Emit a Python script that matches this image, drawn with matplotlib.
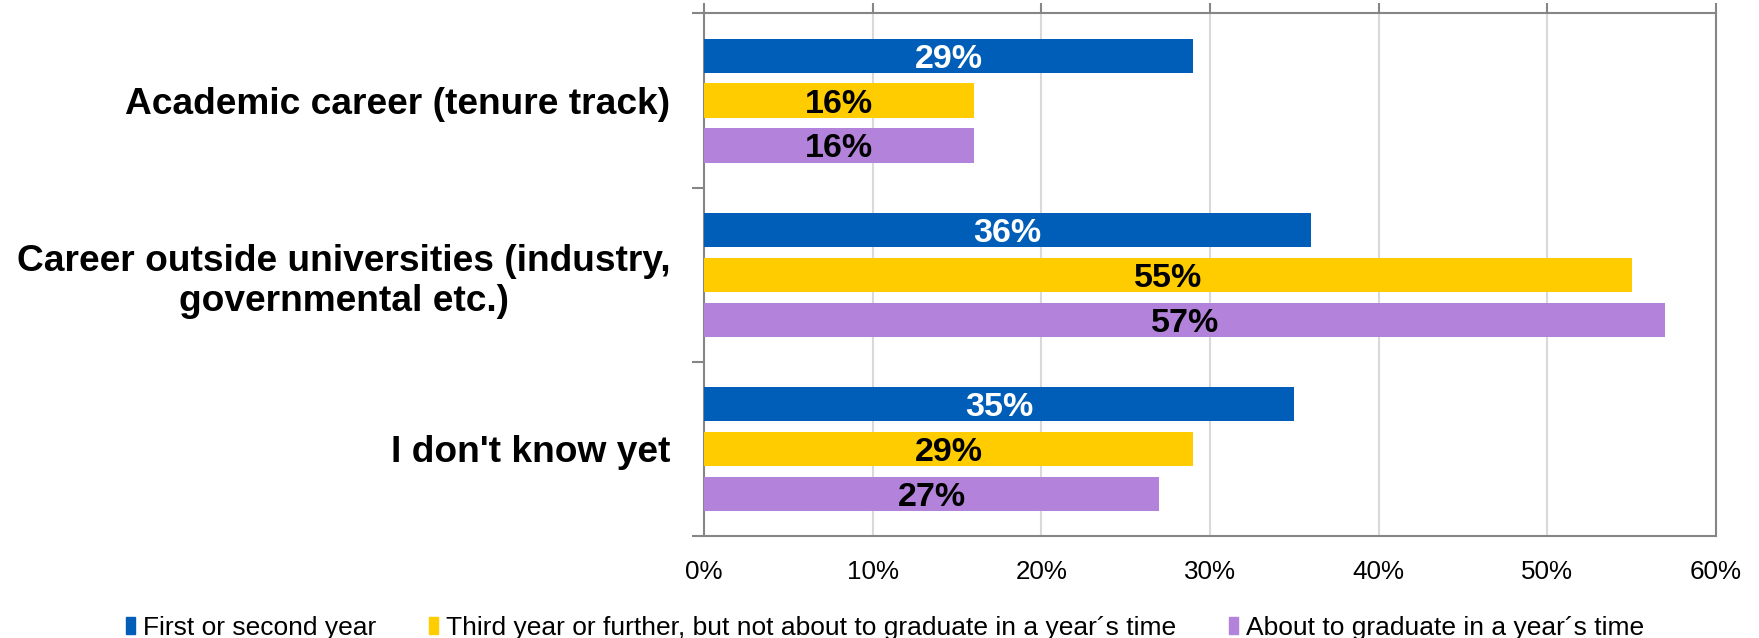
import matplotlib
matplotlib.use("Agg")
import matplotlib.pyplot as plt
from matplotlib.ticker import FixedLocator, PercentFormatter
from matplotlib.patches import Patch
import numpy as np

# chart data
categories = ["Academic career (tenure track)",
              "Career outside universities (industry,\ngovernmental etc.)",
              "I don't know yet"]
series_names = ["First or second year",
                "Third year or further, but not about to graduate in a year\u00b4s time",
                "About to graduate in a year\u00b4s time"]
first_year = [29, 36, 35]
third_year = [16, 55, 29]
graduating = [16, 57, 27]
x_ticks = [0, 10, 20, 30, 40, 50, 60]

colors = ["#005EB8", "#FFCC00", "#B383DB"]
label_colors = ["white", "black", "black"]

plt.rcParams['font.family'] = ['Liberation Sans', 'DejaVu Sans']

fig = plt.figure(figsize=(17.59, 6.38), dpi=100)
ax = fig.add_axes([0.4002, 0.1599, 0.5753, 0.8190])

ypos = np.arange(len(categories))
offsets = [-0.258, 0.0, 0.258]
bar_h = 0.196

for vals, off, col, lcol, name in zip([first_year, third_year, graduating],
                                      offsets, colors, label_colors, series_names):
    bars = ax.barh(ypos + off, vals, height=bar_h, color=col, label=name, zorder=3)
    for b, v in zip(bars, vals):
        ax.text(b.get_width() / 2, b.get_y() + b.get_height() / 2, f"{v}%",
                ha="center", va="center_baseline", color=lcol, fontsize=24.5,
                fontweight="bold", zorder=4)

ax.set_xlim(0, 60)
ax.set_ylim(2.5, -0.5)
ax.xaxis.set_major_locator(FixedLocator(x_ticks))
ax.xaxis.set_major_formatter(PercentFormatter(decimals=0))
ax.grid(axis="x", color="#D9D9D9", linewidth=1.5, zorder=0)

# x ticks on top (axis line), labels at bottom
ax.tick_params(axis="x", top=True, bottom=False, labeltop=False, labelbottom=True,
               direction="out", length=7, width=1.5, color="#868686",
               labelsize=18.7, pad=10)

# categories with boundary tick marks
ax.set_yticks(ypos)
ax.set_yticklabels(categories, fontsize=26.7, fontweight="bold",
                   ha="right", multialignment="center")
ax.yaxis.set_minor_locator(FixedLocator([-0.5, 0.5, 1.5, 2.5]))
ax.tick_params(axis="y", which="major", length=0, pad=24)
ax.tick_params(axis="y", which="minor", length=9, width=1.5, color="#868686",
               direction="out")

for s in ax.spines.values():
    s.set_color("#868686")
    s.set_linewidth(1.5)

handles = [Patch(color=c) for c in colors]
fig.legend(handles, series_names, loc="center", bbox_to_anchor=(0.503, 0.016),
           ncol=3, frameon=False, fontsize=19, handlelength=0.35,
           handleheight=0.6, handletextpad=0.3, columnspacing=2.0)

fig.savefig("out.png", dpi=100)
